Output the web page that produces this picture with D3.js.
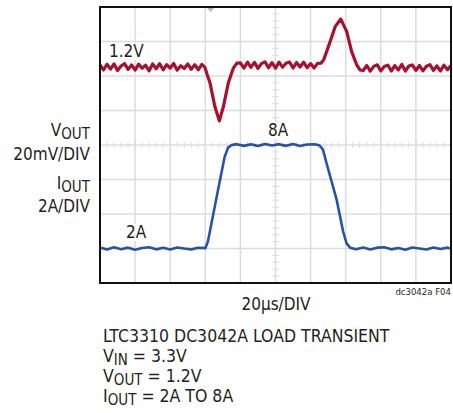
<!DOCTYPE html>
<html>
<head>
<meta charset="utf-8">
<script src="https://cdn.jsdelivr.net/npm/d3@7"></script>
<style>
  html, body { margin: 0; padding: 0; background: #fff; }
  svg text { font-family: "Liberation Sans Narrow", "DejaVu Sans Condensed", sans-serif; fill: #231f20; }
</style>
</head>
<body>
<svg id="chart" width="453" height="413"></svg>
<script>
// time axis, µs (20µs/DIV, 10 divisions)
const timeTicks = [0, 20, 40, 60, 80, 100, 120, 140, 160, 180, 200]

// VOUT trace (mV)
const voutTime = [
  0, 2, 4, 6, 8, 10, 12, 14, 16, 18, 20, 22, 24, 26, 28, 30, 32, 34, 36, 38, 40, 42, 44, 46, 48, 50, 52, 54, 56, 58,
  59.8, 61, 62.7, 65.5, 68, 70.3, 73.1, 76, 78,
  80, 82, 84, 86, 88, 90, 92, 94, 96, 98, 100, 102, 104, 106, 108, 110, 112, 114, 116, 118, 120, 122, 124,
  126, 127.5, 131.1, 134, 137.2, 140.6, 143.4, 146.3, 148.1,
  150, 152, 154, 156, 158, 160, 162, 164, 166, 168, 170, 172, 174, 176, 178, 180, 182, 184, 186, 188, 190, 192, 194, 196, 198, 200
]
const voutMv = [
  1201.5, 1198.5, 1201.8, 1199, 1202, 1198.2, 1200.8, 1202.2, 1198.8, 1201.4, 1198.4, 1201.9, 1199.5, 1201.2, 1198,
  1202, 1199.2, 1202.1, 1198.6, 1201.6, 1199.6, 1202.3, 1198.4, 1201, 1199.3, 1202, 1198.9, 1201.5, 1198.6, 1201.7,
  1200, 1196, 1190.9, 1177.2, 1169, 1177.2, 1190.9, 1199.6, 1202.5,
  1202.6, 1199.6, 1203, 1200, 1202.9, 1199.4, 1202.2, 1203.2, 1199.8, 1202.7, 1199.5, 1203, 1200.1, 1202.4,
  1203.1, 1199.6, 1202.8, 1200.2, 1203, 1199.8, 1202.2, 1199.6, 1202.3,
  1202.5, 1204.5, 1214.9, 1223.6, 1228, 1220.7, 1209.1, 1201.4, 1198.5,
  1198.2, 1201.1, 1197.8, 1200.6, 1201.5, 1198, 1200.5, 1201.3, 1197.9, 1201, 1198.5, 1201.7, 1197.9,
  1200.8, 1201.4, 1198.2, 1201.1, 1198, 1200.7, 1201.6, 1198.3, 1200.9, 1197.9, 1201.3, 1198.6, 1201.1
]

// IOUT trace (A)
const ioutTime = [
  0, 4, 8, 12, 16, 20, 24, 28, 32, 36, 40, 44, 48, 52, 56,
  60, 61.5, 66.1, 71, 73, 75,
  78, 82, 86, 90, 94, 98, 102, 106, 110, 114, 118, 122,
  125, 127, 129.2, 134.9, 138.5, 140.5, 142.5,
  146, 150, 154, 158, 162, 166, 170, 174, 178, 182, 186, 190, 194, 198, 200
]
const ioutA = [
  2.06, 1.94, 2.07, 1.96, 2.05, 1.93, 2.03, 2.07, 1.95, 2.05, 1.94, 2.06, 2.0, 1.95, 2.04,
  2.02, 2.4, 4.8, 7.3, 7.85, 8.0,
  8.05, 7.95, 8.05, 7.94, 8.06, 7.97, 8.05, 7.95, 8.06, 7.94, 8.03, 8.04,
  7.98, 7.75, 6.9, 4.8, 3.0, 2.3, 2.05,
  1.95, 2.06, 1.94, 2.05, 2.07, 1.95, 2.03, 1.93, 2.06, 2.0, 1.94, 2.06, 1.97, 2.05, 2.0
]

// vertical scale: 8 divisions, 20mV/DIV and 2A/DIV (8A on the centre line)
const voutRange = [1075, 1235]
const ioutRange = [0, 16]
const divCount = 8

const svg = d3.select('#chart')
const plotL = 100
const plotR = 451
const plotT = 7
const plotB = 283

const x = d3.scaleLinear().domain([0, 200]).range([plotL, plotR])
const yV = d3.scaleLinear().domain(voutRange).range([plotB, plotT])
const yI = d3.scaleLinear().domain(ioutRange).range([plotB, plotT])
const yDiv = d3.scaleLinear().domain([0, divCount]).range([plotB, plotT])

const gridColor = '#dcdcdc'
const fs = '17px'

// grid
svg.append('g')
  .selectAll('line')
  .data(timeTicks)
  .enter()
  .append('line')
  .attr('x1', d => x(d))
  .attr('x2', d => x(d))
  .attr('y1', plotT)
  .attr('y2', plotB)
  .attr('stroke', gridColor)
  .attr('stroke-width', 1.5)

svg.append('g')
  .selectAll('line')
  .data(d3.range(0, divCount + 1))
  .enter()
  .append('line')
  .attr('x1', plotL)
  .attr('x2', plotR)
  .attr('y1', d => yDiv(d))
  .attr('y2', d => yDiv(d))
  .attr('stroke', gridColor)
  .attr('stroke-width', 1.5)

// minor ticks on the centre lines
const cx = x(100)
const cy = yDiv(divCount / 2)
svg.append('g')
  .selectAll('line')
  .data(d3.range(0, 200.01, 4))
  .enter()
  .append('line')
  .attr('x1', d => x(d))
  .attr('x2', d => x(d))
  .attr('y1', cy - 3)
  .attr('y2', cy + 3)
  .attr('stroke', gridColor)
  .attr('stroke-width', 1)

svg.append('g')
  .selectAll('line')
  .data(d3.range(0, divCount + 0.01, 0.2))
  .enter()
  .append('line')
  .attr('x1', cx - 3.5)
  .attr('x2', cx + 3.5)
  .attr('y1', d => yDiv(d))
  .attr('y2', d => yDiv(d))
  .attr('stroke', gridColor)
  .attr('stroke-width', 1)

// trigger marker
svg.append('path')
  .attr('d', `M${x(63) - 3.5},${plotT + 1} L${x(63) + 3.5},${plotT + 1} L${x(63)},${plotT + 5} Z`)
  .attr('fill', '#b5b5b5')

// labels with white boxes
const boxLabel = (txt, lx, ly, anchor) => {
  const t = svg.append('text')
    .attr('x', lx)
    .attr('y', ly)
    .attr('text-anchor', anchor)
    .style('font-size', fs)
    .text(txt)
  const b = t.node().getBBox()
  svg.insert('rect', 'text')
    .attr('x', b.x - 3)
    .attr('y', b.y + 2)
    .attr('width', b.width + 6)
    .attr('height', b.height - 3)
    .attr('fill', '#fff')
}
boxLabel('1.2V', 109, 57, 'start')
boxLabel('2A', 126, 238, 'start')
boxLabel('8A', 278, 136, 'middle')

// traces
const lineV = d3.line().x(d => x(d[0])).y(d => yV(d[1]))
const lineI = d3.line().x(d => x(d[0])).y(d => yI(d[1]))

svg.append('path')
  .datum(d3.zip(voutTime, voutMv))
  .attr('d', lineV)
  .attr('fill', 'none')
  .attr('stroke', '#a8102e')
  .attr('stroke-width', 3.2)
  .attr('stroke-linejoin', 'round')

svg.append('path')
  .datum(d3.zip(ioutTime, ioutA))
  .attr('d', lineI)
  .attr('fill', 'none')
  .attr('stroke', '#2852a8')
  .attr('stroke-width', 2.6)
  .attr('stroke-linejoin', 'round')

// frame
svg.append('rect')
  .attr('x', plotL)
  .attr('y', plotT)
  .attr('width', plotR - plotL)
  .attr('height', plotB - plotT)
  .attr('fill', 'none')
  .attr('stroke', '#111')
  .attr('stroke-width', 2)

// left axis labels
const subText = (sel, main, sub, rest) => {
  sel.append('tspan').text(main)
  sel.append('tspan').attr('dy', 3.5).style('font-size', '15px').text(sub)
  if (rest) sel.append('tspan').attr('dy', -3.5).text(rest)
}
const vLab = svg.append('text').attr('x', 90).attr('y', 135.5).attr('text-anchor', 'end').style('font-size', fs)
subText(vLab, 'V', 'OUT')
svg.append('text').attr('x', 90).attr('y', 159.5).attr('text-anchor', 'end').style('font-size', fs).text('20mV/DIV')
const iLab = svg.append('text').attr('x', 90).attr('y', 188.5).attr('text-anchor', 'end').style('font-size', fs)
subText(iLab, 'I', 'OUT')
svg.append('text').attr('x', 90).attr('y', 212).attr('text-anchor', 'end').style('font-size', fs).text('2A/DIV')

// bottom texts
svg.append('text').attr('x', 276).attr('y', 310).attr('text-anchor', 'middle').style('font-size', fs).text('20µs/DIV')
svg.append('text').attr('x', 451).attr('y', 295).attr('text-anchor', 'end').style('font-size', '9.5px').text('dc3042a F04')

svg.append('text').attr('x', 103).attr('y', 341.5).style('font-size', '17.5px').text('LTC3310 DC3042A LOAD TRANSIENT')
const l2 = svg.append('text').attr('x', 103).attr('y', 361.5).style('font-size', '17.5px')
subText(l2, 'V', 'IN', ' = 3.3V')
const l3 = svg.append('text').attr('x', 103).attr('y', 381.5).style('font-size', '17.5px')
subText(l3, 'V', 'OUT', ' = 1.2V')
const l4 = svg.append('text').attr('x', 103).attr('y', 401.5).style('font-size', '17.5px')
subText(l4, 'I', 'OUT', ' = 2A TO 8A')
</script>
</body>
</html>
